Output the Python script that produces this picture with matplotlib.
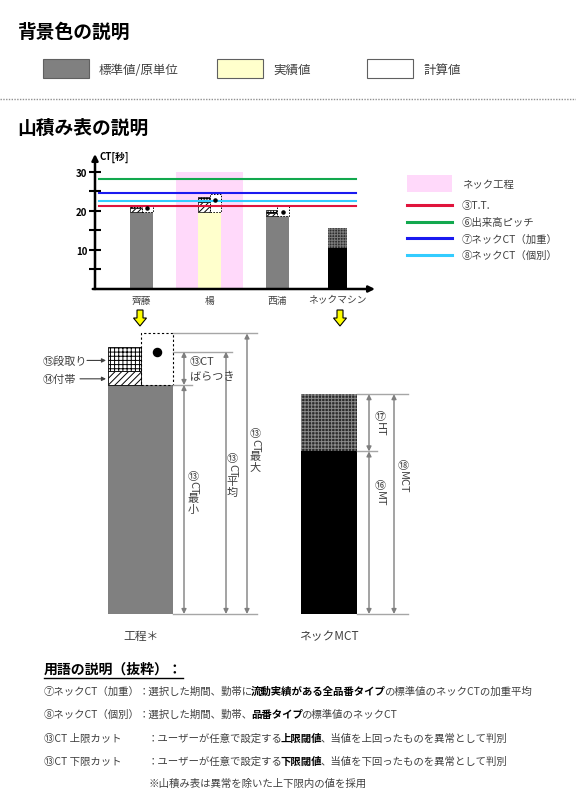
import matplotlib
matplotlib.use('Agg')
import matplotlib.pyplot as plt
from matplotlib.patches import Rectangle, Polygon
from matplotlib.transforms import IdentityTransform
import numpy as np

plt.rcParams['font.family'] = ['Noto Sans CJK JP', 'DejaVu Sans']
plt.rcParams['hatch.linewidth'] = 0.7

W, H = 576, 812

# background colour legend
bg_labels = ['標準値/原単位', '実績値', '計算値']
bg_colors = ['#808080', '#FFFFCC', '#FFFFFF']

# small stacked chart (CT in seconds)
cats = ['齊藤', '楊', '西浦', 'ネックマシン']
cat_pos = [0, 1, 2, 2.88]
base_ct = np.array([19.7, 19.8, 18.6, 10.5])
futai_ct = np.array([1.1, 2.4, 0.9])
dandori_ct = np.array([0.7, 1.3, 0.8])
max_ct = np.array([21.5, 24.4, 21.4])
avg_ct = np.array([20.8, 22.9, 19.7])
neck_ht = 5.1
base_colors = ['#808080', '#FFFFCC', '#808080', '#000000']
neck_proc = 1
ref_names = ['③T.T.', '⑥出来高ピッチ', '⑦ネックCT（加重）', '⑧ネックCT（個別）']
ref_values = [21.2, 28.1, 24.5, 22.6]
ref_colors = ['#E0143C', '#12A84E', '#1A1AF0', '#33CCFF']
pink = '#FFD9FA'

# schematic (工程＊ / ネックMCT)
proc_min, proc_futai, proc_dandori = 20.0, 1.2, 2.1
proc_avg, proc_max = 22.9, 24.5
mct_mt, mct_ht = 14.2, 5.0

# terms
term_heads = ['⑦ネックCT（加重）', '⑧ネックCT（個別）', '⑬CT 上限カット', '⑬CT 下限カット']
term_runs = [
    [('：選択した期間、勤帯に', False), ('流動実績がある全品番タイプ', True), ('の標準値のネックCTの加重平均', False)],
    [('：選択した期間、勤帯、', False), ('品番タイプ', True), ('の標準値のネックCT', False)],
    [('：ユーザーが任意で設定する', False), ('上限閾値', True), ('、当値を上回ったものを異常として判別', False)],
    [('：ユーザーが任意で設定する', False), ('下限閾値', True), ('、当値を下回ったものを異常として判別', False)],
]
term_note = '※山積み表は異常を除いた上下限内の値を採用'

fig = plt.figure(figsize=(W / 100, H / 100), dpi=100)
rend = fig.canvas.get_renderer()
TXT = '#404040'

page = fig.add_axes([0, 0, 1, 1])
page.set_xlim(0, W)
page.set_ylim(H, 0)
page.axis('off')


def text_w(s, size, **kw):
    t = fig.text(0, 0, s, fontsize=size, **kw)
    w = t.get_window_extent(rend).width
    t.remove()
    return w


def runs(x, y, parts, size):
    # bold and regular runs side by side
    prev = None
    for s, b in parts:
        if prev is not None and prev != b:
            x -= 2
        t = page.text(x, y, s, fontsize=size, fontweight='bold' if b else 'normal',
                      color='black' if b else TXT, va='center', ha='left')
        x += t.get_window_extent(rend).width
        prev = b


def vtext(ax, x, y, parts, size):
    # japanese style vertical text: latin rotated, kana/kanji upright
    xd, yd = ax.transData.transform((x, y))
    em = size * 100 / 72 * 0.98
    items = []
    for s, rot in parts:
        if rot:
            h = text_w(s, size) - 2
            items.append((s, True, h))
        else:
            for ch in s:
                items.append((ch, False, em))
    cur = yd + sum(i[2] for i in items) / 2
    for s, rot, h in items:
        fig.text(xd, cur - h / 2, s, fontsize=size, rotation=-90 if rot else 0,
                 ha='center', va='center', color=TXT, transform=IdentityTransform())
        cur -= h


# ---- header: background colours
page.text(17, 32, '背景色の説明', fontsize=13.5, fontweight='bold', va='center')
for lab, col, bx in zip(bg_labels, bg_colors, [43, 217, 367]):
    page.add_patch(Rectangle((bx, 60), 46, 19, fc=col, ec='#606060', lw=0.8))
    page.text(bx + 56, 70, lab, fontsize=9, color=TXT, va='center')
page.plot([0, W], [100, 100], color='#909090', lw=1, ls=(0, (1, 1)))
page.text(17, 128, '山積み表の説明', fontsize=13.5, fontweight='bold', va='center')

# ---- small chart
ax = fig.add_axes([95 / W, 1 - 290 / H, 280 / W, 135 / H])
ax.patch.set_visible(False)
x = np.array(cat_pos)
ax.set_xlim(-0.684, 3.434)
ax.set_ylim(0, 34.6)
for sp in ax.spines.values():
    sp.set_visible(False)
ax.axvspan(neck_proc - 0.5, neck_proc + 0.5, ymax=30 / 34.6, color=pink, lw=0, zorder=0)
bw = [0.34, 0.34, 0.34, 0.28]
ax.bar(x, base_ct, width=bw, color=base_colors, zorder=2)
ax.bar(x[3], neck_ht, width=bw[3], bottom=base_ct[3], fc='#2e2e2e', ec='#7a7a7a',
       hatch='++++++', lw=0, zorder=2)
hw = 0.17
px = x[:3]
ax.bar(px - hw / 2, futai_ct, hw, bottom=base_ct[:3], fc='white', ec='black',
       hatch='//////', lw=0.5, zorder=2)
ax.bar(px - hw / 2, dandori_ct, hw, bottom=base_ct[:3] + futai_ct, fc='white', ec='black',
       hatch='++++++', lw=0.5, zorder=2)
ax.bar(px + hw / 2, max_ct - base_ct[:3], hw, bottom=base_ct[:3], fc='white', ec='black',
       ls=(0, (1.5, 1.5)), lw=0.7, zorder=2)
ax.scatter(px + hw / 2, avg_ct, s=5, c='black', zorder=4)
for v, c in zip(ref_values, ref_colors):
    ax.plot([-0.625, 3.154], [v, v], color=c, lw=1.5, zorder=3)
arr = dict(arrowstyle='-|>', color='black', lw=1.8, mutation_scale=9, shrinkA=0, shrinkB=0)
ax.annotate('', xy=(0, 1), xytext=(0, 0), xycoords='axes fraction', arrowprops=arr,
            annotation_clip=False)
ax.annotate('', xy=(1, 0), xytext=(-0.008, 0), xycoords='axes fraction', arrowprops=arr,
            annotation_clip=False)
ax.set_yticks([10, 20, 30])
ax.set_yticklabels(['10', '20', '30'], fontsize=7, fontweight='bold')
ax.set_yticks([5, 15, 25], minor=True)
ax.tick_params(axis='y', which='both', direction='inout', length=9, width=1.5, pad=1)
ax.set_xticks(x)
ax.set_xticklabels(cats, fontsize=7, color=TXT)
ax.tick_params(axis='x', length=0, pad=4)
page.text(100, 157, 'CT[秒]', fontsize=7, fontweight='bold', va='center')

# legend on the right
page.add_patch(Rectangle((407, 176), 45, 17, fc=pink, lw=0))
page.text(462, 185, 'ネック工程', fontsize=7.5, color=TXT, va='center')
for i, (n, c) in enumerate(zip(ref_names, ref_colors)):
    yy = 206 + i * 16.7
    page.plot([407, 452], [yy, yy], color=c, lw=2.2)
    page.text(462, yy, n, fontsize=7.5, color=TXT, va='center')

# yellow arrows
for cx in [140, 340]:
    page.add_patch(Polygon([(cx - 3, 311), (cx + 3, 311), (cx + 3, 319), (cx + 6.5, 319),
                            (cx, 327), (cx - 6.5, 319), (cx - 3, 319)],
                           closed=True, fc='#FFFF00', ec='black', lw=0.8))

# ---- schematic
sc = 11.45
sch = fig.add_axes([0, 0, 1, 1])
sch.set_xlim(0, W)
sch.set_ylim(-197 / sc, 615 / sc)
sch.axis('off')
sch.bar(140.5, proc_min, 65, color='#808080')
sch.bar(124.5, proc_futai, 33, bottom=proc_min, fc='white', ec='black', hatch='/////', lw=0.6)
sch.bar(124.5, proc_dandori, 33, bottom=proc_min + proc_futai, fc='white', ec='black',
        hatch='++++', lw=0.6)
sch.bar(157, proc_max - proc_min, 32, bottom=proc_min, fill=False, ec='black',
        ls=(0, (2, 2)), lw=0.8)
sch.scatter(157, proc_avg, s=34, c='black', zorder=4)

mct_x = 329
sch.bar(mct_x, mct_mt, 56, color='black')
sch.bar(mct_x, mct_ht, 56, bottom=mct_mt, fc='#2a2a2a', ec='#8a8a8a', hatch='+++++', lw=0)

LN = '#A6A6A6'
dim = dict(arrowstyle='<|-|>', color='#7f7f7f', lw=1, mutation_scale=7, shrinkA=0, shrinkB=0)
for yv, x1 in [(proc_max, 257), (proc_avg, 232), (proc_min, 192), (0, 257)]:
    sch.plot([173, x1], [yv, yv], color=LN, lw=1)
for xa, y0, y1 in [(184, proc_min, proc_avg), (184, 0, proc_min), (226, 0, proc_avg), (247, 0, proc_max)]:
    sch.annotate('', xy=(xa, y1), xytext=(xa, y0), arrowprops=dim)
mct_top = mct_mt + mct_ht
for yv, x1 in [(mct_top, 408), (mct_mt, 377), (0, 408)]:
    sch.plot([357, x1], [yv, yv], color=LN, lw=1)
for xa, y0, y1 in [(369, mct_mt, mct_top), (369, 0, mct_mt), (394, 0, mct_top)]:
    sch.annotate('', xy=(xa, y1), xytext=(xa, y0), arrowprops=dim)

sch.text(190, (proc_min + proc_avg) / 2 + 0.65, '⑬CT', fontsize=8, color=TXT, va='center')
sch.text(190, (proc_min + proc_avg) / 2 - 0.65, 'ばらつき', fontsize=8, color=TXT, va='center')
vtext(sch, 193, proc_min * 0.53, [('⑬', False), ('CT', True), ('最小', False)], 8)
vtext(sch, 232, proc_avg * 0.53, [('⑬', False), ('CT', True), ('平均', False)], 8)
vtext(sch, 255, proc_max * 0.585, [('⑬', False), ('CT', True), ('最大', False)], 8)
vtext(sch, 380, mct_mt + mct_ht / 2, [('⑰', False), ('HT', True)], 8)
vtext(sch, 380, mct_mt * 0.75, [('⑯', False), ('MT', True)], 8)
vtext(sch, 403, mct_top * 0.63, [('⑱', False), ('MCT', True)], 8)

lab_arr = dict(arrowstyle='-|>', color='#404040', lw=0.8, mutation_scale=6, shrinkA=0, shrinkB=0)
y_dan = proc_min + proc_futai + proc_dandori * 0.45
y_fut = proc_min + proc_futai * 0.45
sch.text(43, y_dan, '⑮段取り', fontsize=8, color=TXT, va='center')
sch.annotate('', xy=(106, y_dan), xytext=(87, y_dan), arrowprops=lab_arr)
sch.text(43, y_fut, '⑭付帯', fontsize=8, color=TXT, va='center')
sch.annotate('', xy=(106, y_fut), xytext=(80, y_fut), arrowprops=lab_arr)

page.text(141, 637, '工程＊', fontsize=8.5, color=TXT, ha='center', va='center')
page.text(329, 637, 'ネックMCT', fontsize=8.5, color=TXT, ha='center', va='center')

# ---- terms
t = page.text(44, 670, '用語の説明（抜粋）：', fontsize=10, fontweight='bold', va='center')
bb = t.get_window_extent(rend)
page.plot([44, 44 + bb.width], [679, 679], color='black', lw=1)
term_y = [692, 715, 739, 762]
colon_x = [139, 139, 148, 148]
for head, parts, yy, cx in zip(term_heads, term_runs, term_y, colon_x):
    page.text(44, yy, head, fontsize=7.5, color=TXT, va='center')
    runs(cx, yy, parts, 7.5)
page.text(148, 784, term_note, fontsize=7.5, color=TXT, va='center')

fig.savefig('out.png', dpi=100)
